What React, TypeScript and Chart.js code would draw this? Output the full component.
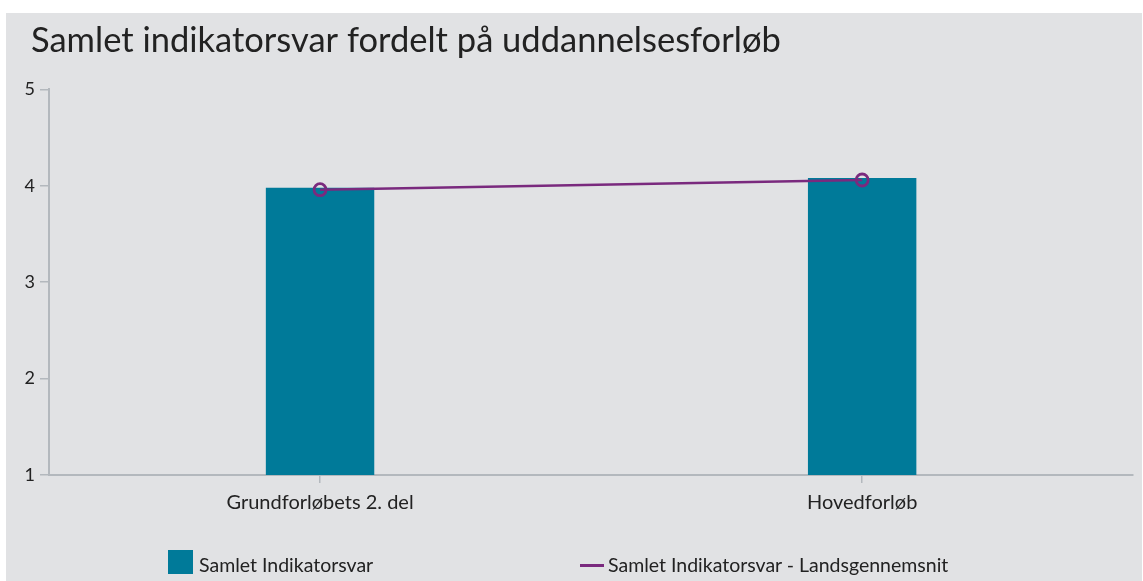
import React, { useEffect, useRef } from "react";
import { Chart, registerables } from "chart.js";

Chart.register(...registerables);

const titleText = "Samlet indikatorsvar fordelt på uddannelsesforløb";
const categories = ["Grundforløbets 2. del", "Hovedforløb"];
const barLabel = "Samlet Indikatorsvar";
const lineLabel = "Samlet Indikatorsvar - Landsgennemsnit";
const barValues = [3.98, 4.08];
const lineValues = [3.96, 4.06];
const yTicks = [1, 2, 3, 4, 5];

const BG = "#e1e2e4";
const TEAL = "#007a99";
const PURPLE = "#7a2a7e";
const AXIS = "#b3b8bd";
const TEXT = "#222222";
const FONT = "Lato, 'Open Sans', sans-serif";

const titleShift = {
  id: "titleShift",
  afterLayout(chart: any) {
    if (chart.titleBlock) {
      chart.titleBlock.left = 25;
    }
  },
};

export default function App() {
  const ref = useRef<HTMLCanvasElement | null>(null);

  useEffect(() => {
    document.body.style.margin = "0";
    const canvas = ref.current;
    if (!canvas) return;
    const chart = new Chart(canvas, {
      data: {
        labels: categories,
        datasets: [
          {
            type: "line",
            label: lineLabel,
            data: lineValues,
            borderColor: PURPLE,
            backgroundColor: BG,
            borderWidth: 2.5,
            pointRadius: 6,
            pointBorderWidth: 2.8,
            pointBackgroundColor: "rgba(0,0,0,0)",
            pointBorderColor: PURPLE,
            tension: 0,
            order: 0,
          },
          {
            type: "bar",
            label: barLabel,
            data: barValues,
            backgroundColor: TEAL,
            borderWidth: 0,
            barPercentage: 0.2,
            categoryPercentage: 1,
            order: 1,
          },
        ],
      },
      options: {
        responsive: false,
        animation: false,
        layout: { padding: { left: 0, right: 4, top: 0, bottom: 66 } },
        plugins: {
          legend: { display: false },
          tooltip: { enabled: false },
          title: {
            display: true,
            text: titleText,
            align: "start",
            color: TEXT,
            font: { family: FONT, size: 34.5, weight: "normal" },
            padding: { top: 7, bottom: 28 },
          },
        },
        scales: {
          x: {
            offset: true,
            grid: {
              offset: false,
              drawOnChartArea: false,
              drawTicks: true,
              tickLength: 8,
              color: AXIS,
              lineWidth: 1.5,
            },
            border: { display: true, color: AXIS, width: 2 },
            ticks: {
              color: TEXT,
              padding: 8,
              font: { family: FONT, size: 20 },
              maxRotation: 0,
            },
            afterFit: (s: any) => {
              s.height = 40;
            },
          },
          y: {
            min: 1,
            max: 5,
            afterBuildTicks: (s: any) => {
              s.ticks = yTicks.map((v) => ({ value: v }));
            },
            grid: {
              drawOnChartArea: false,
              drawTicks: true,
              tickLength: 9,
              color: AXIS,
              lineWidth: 1.5,
            },
            border: { display: true, color: AXIS, width: 2 },
            ticks: {
              color: TEXT,
              padding: 5,
              font: { family: FONT, size: 18 },
            },
            afterFit: (s: any) => {
              s.width = 43;
            },
          },
        },
      },
      plugins: [titleShift],
    });
    return () => chart.destroy();
  }, []);

  const textStyle: React.CSSProperties = {
    position: "absolute",
    fontFamily: FONT,
    fontSize: 19.5,
    color: TEXT,
    lineHeight: "24px",
    whiteSpace: "nowrap",
  };

  return (
    <div
      style={{
        position: "absolute",
        left: 6,
        top: 13,
        width: 1136,
        height: 568,
        background: BG,
      }}
    >
      <canvas ref={ref} width={1136} height={568} style={{ display: "block" }} />
      <div style={{ position: "absolute", left: 162, top: 537, width: 25, height: 24, background: TEAL }} />
      <div style={{ ...textStyle, left: 193, top: 540 }}>{barLabel}</div>
      <div style={{ position: "absolute", left: 574, top: 551, width: 24, height: 3, background: PURPLE }} />
      <div style={{ ...textStyle, left: 602, top: 540 }}>{lineLabel}</div>
    </div>
  );
}
